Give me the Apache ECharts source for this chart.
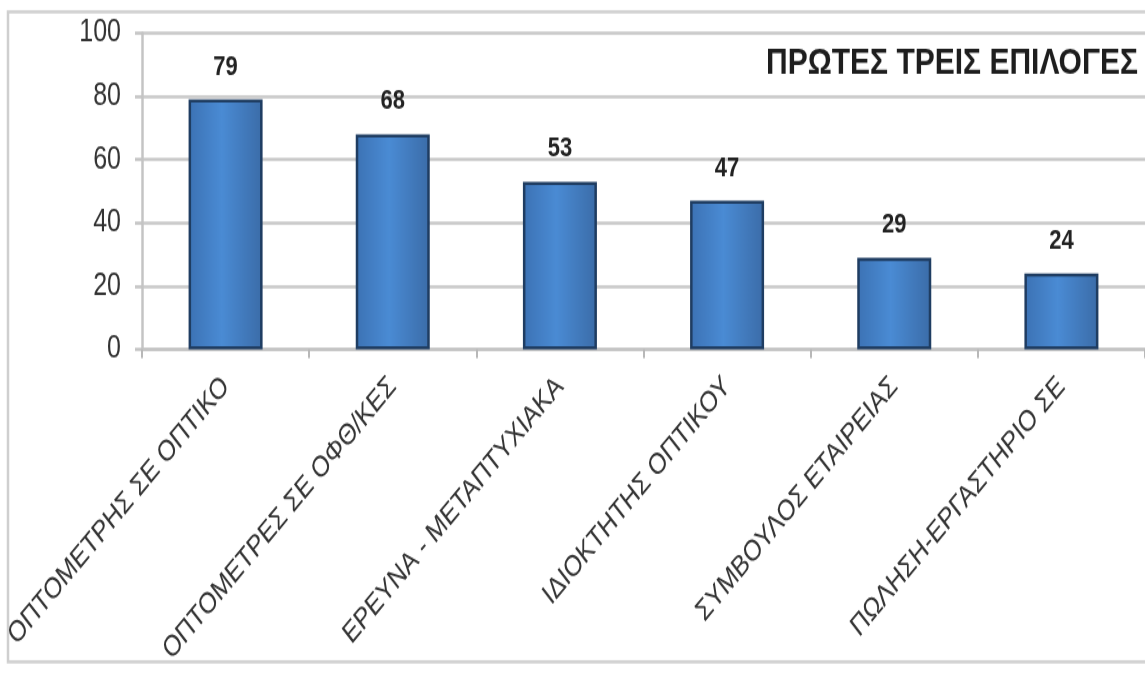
<!DOCTYPE html>
<html>
<head>
<meta charset="utf-8">
<script src="https://cdn.jsdelivr.net/npm/echarts@6/dist/echarts.min.js"></script>
<style>
  html, body { margin: 0; padding: 0; background: #ffffff; overflow: hidden; }
  #wrap { width: 1145px; height: 673px; overflow: hidden; position: relative; }
  /* the chart is laid out at a shorter height and stretched vertically */
  #chart { width: 1145px; height: 538.4px; transform: scaleY(1.25); transform-origin: 0 0; }
</style>
</head>
<body>
<div id="wrap"><div id="chart"></div></div>
<script>
const categories = [
  'ΟΠΤΟΜΕΤΡΗΣ ΣΕ ΟΠΤΙΚΟ',
  'ΟΠΤΟΜΕΤΡΕΣ ΣΕ ΟΦΘ/ΚΕΣ',
  'ΕΡΕΥΝΑ - ΜΕΤΑΠΤΥΧΙΑΚΑ',
  'ΙΔΙΟΚΤΗΤΗΣ ΟΠΤΙΚΟΥ',
  'ΣΥΜΒΟΥΛΟΣ ΕΤΑΙΡΕΙΑΣ',
  'ΠΩΛΗΣΗ-ΕΡΓΑΣΤΗΡΙΟ ΣΕ'
];
const values = [79, 68, 53, 47, 29, 24];
const titleText = 'ΠΡΩΤΕΣ ΤΡΕΙΣ ΕΠΙΛΟΓΕΣ';
const yMin = 0, yMax = 100, yStep = 20;

const chart = echarts.init(document.getElementById('chart'), null, { renderer: 'canvas' });

const barFill = new echarts.graphic.LinearGradient(0, 0, 1, 0, [
  { offset: 0, color: '#3c72b4' },
  { offset: 0.45, color: '#4a8bd4' },
  { offset: 1, color: '#3b6ca8' }
]);

chart.setOption({
  animation: false,
  backgroundColor: '#ffffff',
  textStyle: { fontFamily: 'Liberation Sans, Arial, sans-serif' },
  title: {
    text: titleText,
    right: 7,
    top: 36,
    padding: 0,
    textStyle: { fontSize: 30, fontWeight: 'bold', color: '#1e1e1e', fontFamily: 'Liberation Sans, Arial, sans-serif' }
  },
  graphic: [{
    type: 'rect',
    silent: true,
    z: -1,
    shape: { x: 8, y: 9.6, width: 1160, height: 520 },
    style: { fill: 'none', stroke: '#cfcfcf', lineWidth: 2.5 }
  }],
  grid: { left: 142, width: 1007, top: 26.4, bottom: 258.4, containLabel: false },
  xAxis: {
    type: 'category',
    data: categories,
    axisLine: { show: true, lineStyle: { color: '#c4c4c4', width: 2.5 } },
    axisTick: { show: true, alignWithLabel: false, length: 7, lineStyle: { color: '#b8b8b8', width: 2 } },
    axisLabel: {
      interval: 0,
      rotate: 44,
      margin: 26,
      fontSize: 23.5,
      color: '#333333',
      fontFamily: 'Liberation Sans, Arial, sans-serif'
    }
  },
  yAxis: {
    type: 'value',
    min: yMin,
    max: yMax,
    interval: yStep,
    axisLine: { show: true, lineStyle: { color: '#c4c4c4', width: 2.5 } },
    axisTick: { show: true, length: 7, lineStyle: { color: '#c4c4c4', width: 2.5 } },
    splitLine: { show: true, lineStyle: { color: '#c8c8c8', width: 2.5 } },
    axisLabel: { fontSize: 25, color: '#333333', margin: 21, fontFamily: 'Liberation Sans, Arial, sans-serif' }
  },
  series: [{
    type: 'bar',
    data: values,
    barWidth: 74,
    itemStyle: { color: barFill, borderColor: '#1f3d62', borderWidth: 2.5 },
    label: {
      show: true,
      position: 'top',
      distance: 15,
      fontSize: 22,
      fontWeight: 'bold',
      color: '#222222',
      fontFamily: 'Liberation Sans, Arial, sans-serif'
    }
  }]
});
</script>
</body>
</html>
